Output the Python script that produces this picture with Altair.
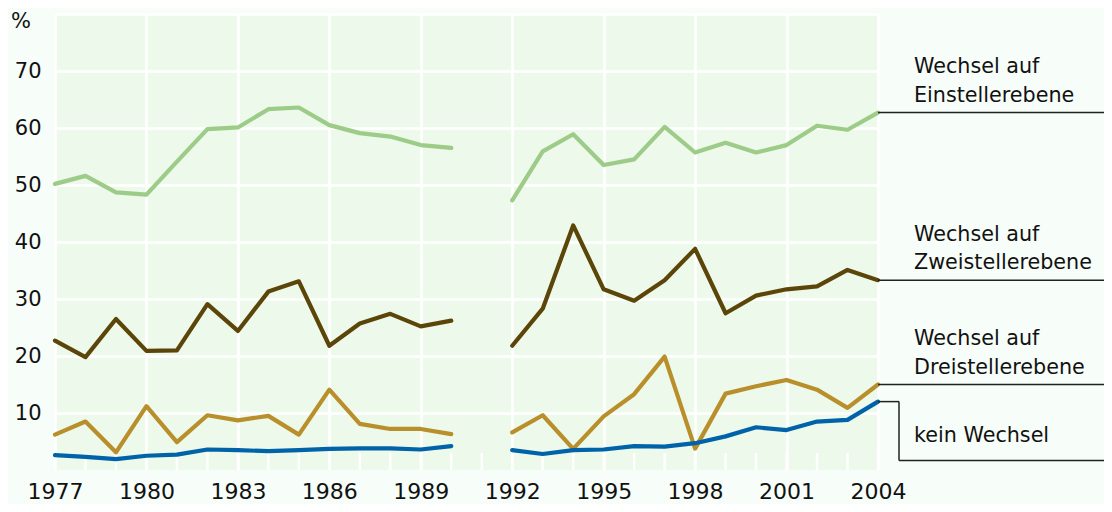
import altair as alt
import pandas as pd

# ---------------- data ----------------
years_a = list(range(1977, 1991))
years_b = list(range(1992, 2005))
years = years_a + years_b

einsteller = [50.2, 51.6, 48.7, 48.3, 54.1, 59.8, 60.1, 63.3, 63.6, 60.5, 59.1, 58.5, 57.0, 56.5,
              47.3, 55.9, 58.9, 53.5, 54.5, 60.2, 55.7, 57.4, 55.7, 57.0, 60.4, 59.7, 62.7]
zweisteller = [22.7, 19.8, 26.5, 20.9, 21.0, 29.1, 24.4, 31.3, 33.1, 21.8, 25.7, 27.4, 25.2, 26.2,
               21.8, 28.3, 42.9, 31.7, 29.7, 33.3, 38.8, 27.5, 30.6, 31.7, 32.2, 35.1, 33.3]
dreisteller = [6.2, 8.5, 3.1, 11.2, 4.9, 9.6, 8.7, 9.5, 6.2, 14.1, 8.1, 7.2, 7.2, 6.3,
               6.6, 9.6, 3.7, 9.4, 13.3, 19.9, 3.75, 13.4, 14.7, 15.8, 14.1, 10.9, 15.0]
kein = [2.6, 2.3, 1.9, 2.5, 2.7, 3.6, 3.5, 3.3, 3.5, 3.7, 3.8, 3.8, 3.6, 4.2,
        3.5, 2.8, 3.5, 3.6, 4.2, 4.1, 4.7, 5.9, 7.5, 7.0, 8.5, 8.8, 12.0]

series_names = ["Einsteller", "Zweisteller", "Dreisteller", "kein"]
series_values = [einsteller, zweisteller, dreisteller, kein]
series_colors = ["#9dcb88", "#5b4508", "#b98f2c", "#0062a8"]
label_lines = [["Wechsel auf", "Einstellerebene"],
               ["Wechsel auf", "Zweistellerebene"],
               ["Wechsel auf", "Dreistellerebene"],
               ["kein Wechsel"]]

x_tick_labels = [1977, 1980, 1983, 1986, 1989, 1992, 1995, 1998, 2001, 2004]
y_tick_values = [10, 20, 30, 40, 50, 60, 70]
all_years = list(range(1977, 2005))

FONT = "DejaVu Sans"
TXT = "#111111"

# ---------------- tables ----------------
rows = []
for name, vals in zip(series_names, series_values):
    for yr, v in zip(years, vals):
        rows.append({"year": yr, "value": v, "series": name,
                     "period": "a" if yr <= 1990 else "b"})
df = pd.DataFrame(rows)

last = {n: v[-1] for n, v in zip(series_names, series_values)}

lab_rows = []
for name, lines in zip(series_names, label_lines):
    for i, t in enumerate(lines):
        kind = "single" if len(lines) == 1 else ("first" if i == 0 else "second")
        lab_rows.append({"series": name, "value": last[name], "text": t, "kind": kind})
lab_df = pd.DataFrame(lab_rows)

lead_df = pd.DataFrame([{"series": n, "value": last[n], "year": 2004} for n in series_names[:3]])
kein_df = pd.DataFrame([{"series": "kein", "value": last["kein"], "year": 2004}])
ticks_df = pd.DataFrame({"year": all_years})

xscale = alt.Scale(domain=[1977, 2004], nice=False, zero=False)
yscale = alt.Scale(domain=[0, 80], nice=False)

# background minor ticks (white stubs at bottom) + axes
minor = alt.Chart(ticks_df).mark_rule(color="white", strokeWidth=2.5).encode(
    x=alt.X("year:Q", scale=xscale,
            axis=alt.Axis(values=x_tick_labels, format="d", grid=True, gridColor="white",
                          gridWidth=2.5, ticks=False, domain=False, labelFontSize=22,
                          labelFont=FONT, labelColor=TXT, labelPadding=11, title=None,
                          labelFlush=False)),
    y=alt.datum(0, scale=yscale,
                axis=alt.Axis(values=y_tick_values + [80], grid=True, gridColor="white",
                              gridWidth=2.5, ticks=False, domain=False, labelFontSize=21,
                              labelFont=FONT, labelColor=TXT, labelPadding=14, title=None,
                              labelExpr="datum.value == 80 ? '' : datum.label")),
    y2=alt.datum(3),
)

lines = alt.Chart(df).mark_line(strokeWidth=4.2, strokeJoin="round", strokeCap="round").encode(
    x=alt.X("year:Q", scale=xscale),
    y=alt.Y("value:Q", scale=yscale),
    color=alt.Color("series:N", scale=alt.Scale(domain=series_names, range=series_colors), legend=None),
    detail="period:N",
)

leaders = alt.Chart(lead_df).mark_rule(color="#222222", strokeWidth=1.5).encode(
    x=alt.X("year:Q", scale=xscale),
    x2=alt.value(1057),
    y=alt.Y("value:Q", scale=yscale),
)

k1 = alt.Chart(kein_df).mark_rule(color="#222222", strokeWidth=1.5).encode(
    x=alt.X("year:Q", scale=xscale), x2=alt.value(844), y=alt.Y("value:Q", scale=yscale))
k2 = alt.Chart(kein_df).mark_rule(color="#222222", strokeWidth=1.5).encode(
    x=alt.value(844), y=alt.Y("value:Q", scale=yscale), y2=alt.value(446.5))
k3 = alt.Chart(kein_df).mark_rule(color="#222222", strokeWidth=1.5).encode(
    x=alt.value(844), x2=alt.value(1057), y=alt.value(446.5))


def label_layer(kind, dy):
    return alt.Chart(lab_df).transform_filter(alt.datum.kind == kind).mark_text(
        align="left", baseline="alphabetic", fontSize=20.7, font=FONT, color=TXT, dy=dy
    ).encode(
        x=alt.value(859),
        y=alt.Y("value:Q", scale=yscale),
        text="text:N",
    )


lab1 = label_layer("first", -39.5)
lab2 = label_layer("second", -11)
lab3 = label_layer("single", 40)

pct = alt.Chart(pd.DataFrame({"t": ["%"]})).mark_text(
    align="center", baseline="middle", fontSize=21, font=FONT, color=TXT).encode(
    x=alt.value(-34), y=alt.value(8), text="t:N")

chart = alt.layer(minor, lines, leaders, k1, k2, k3, lab1, lab2, lab3, pct).properties(
    width=823, height=456,
    padding={"left": 47, "top": 6, "right": 226, "bottom": 34},
    autosize=alt.AutoSizeParams(type="none"),
    background="#f7fdf8",
).configure_view(fill="#edf9ea", strokeWidth=0)

chart.save("out.html", embed_options={"renderer": "svg", "actions": False})
